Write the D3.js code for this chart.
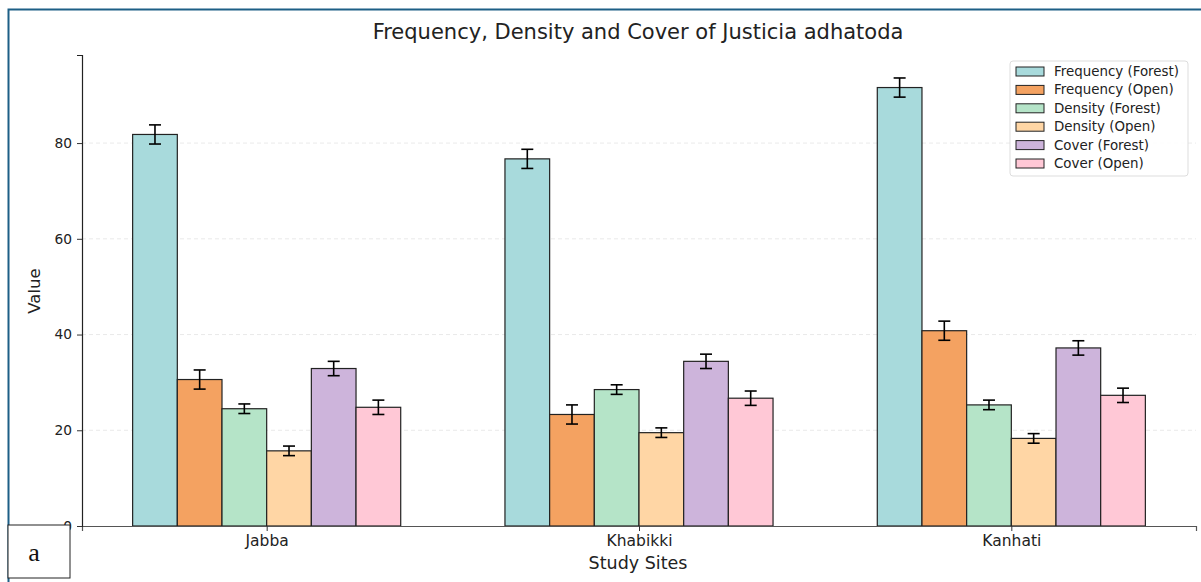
<!DOCTYPE html>
<html>
<head>
<meta charset="utf-8">
<script src="https://cdn.jsdelivr.net/npm/d3@7"></script>
<style>
  body { margin: 0; background: #fff; }
  text { font-family: "DejaVu Sans", sans-serif; }
</style>
</head>
<body>
<div id="chart"></div>
<script>
// Data
const sites = ["Jabba", "Khabikki", "Kanhati"];
const seriesNames = ["Frequency (Forest)", "Frequency (Open)", "Density (Forest)", "Density (Open)", "Cover (Forest)", "Cover (Open)"];
const freqForest = [81.8, 76.7, 91.6];
const freqOpen = [30.6, 23.3, 40.8];
const densForest = [24.5, 28.5, 25.3];
const densOpen = [15.7, 19.5, 18.3];
const coverForest = [32.9, 34.4, 37.2];
const coverOpen = [24.8, 26.7, 27.3];
const errFreq = [2, 2, 2];
const errDens = [1, 1, 1];
const errCover = [1.5, 1.5, 1.5];
const yTicks = [0, 20, 40, 60, 80];

const colors = ["#a8dadc", "#f4a261", "#b5e4c8", "#ffd6a5", "#cdb4db", "#ffc8d6"];

const seriesValues = [freqForest, freqOpen, densForest, densOpen, coverForest, coverOpen];
const seriesErrors = [errFreq, errFreq, errDens, errDens, errCover, errCover];

/**
 * Basic Settings
 */
const canvasWidth = 1201;
const canvasHeight = 582;
const plotLeft = 82, plotRight = 1196, plotTop = 55, plotBottom = 526;
const barWidth = 0.12;

const svg = d3.select("#chart")
  .append("svg")
  .attr("width", canvasWidth)
  .attr("height", canvasHeight)
  .style("background", "#fff");

// outer frame
svg.append("path")
  .attr("d", `M8.5,${canvasHeight} V9.5 H${canvasWidth}`)
  .attr("fill", "none")
  .attr("stroke", "#1d5f86")
  .attr("stroke-width", 2);

/**
 * Scale
 */
const xScale = d3.scaleLinear()
  .domain([-0.496, 2.496])
  .range([plotLeft, plotRight]);

const yScale = d3.scaleLinear()
  .domain([0, 98.4])
  .range([plotBottom, plotTop]);

// grid
svg.selectAll(".grid")
  .data(yTicks.filter(d => d > 0))
  .enter()
  .append("line")
  .attr("class", "grid")
  .attr("x1", plotLeft)
  .attr("x2", plotRight)
  .attr("y1", d => yScale(d))
  .attr("y2", d => yScale(d))
  .attr("stroke", "#e3e3e3")
  .attr("stroke-width", 0.8)
  .attr("stroke-dasharray", "4,3");

/**
 * Bars
 */
const barData = [];
seriesValues.forEach(function(vals, s) {
  vals.forEach(function(v, i) {
    barData.push({ s: s, i: i, v: v, e: seriesErrors[s][i] });
  });
});

svg.selectAll(".bar")
  .data(barData)
  .enter()
  .append("rect")
  .attr("class", "bar")
  .attr("x", d => xScale(d.i + (d.s - 3) * barWidth))
  .attr("y", d => yScale(d.v))
  .attr("width", xScale(barWidth) - xScale(0))
  .attr("height", d => yScale(0) - yScale(d.v))
  .attr("fill", d => colors[d.s])
  .attr("stroke", "#222")
  .attr("stroke-width", 1.2);

// error bars
const errG = svg.selectAll(".err")
  .data(barData)
  .enter()
  .append("g")
  .attr("class", "err")
  .attr("transform", d => `translate(${xScale(d.i + (d.s - 2.5) * barWidth)},0)`);

errG.append("line")
  .attr("x1", 0).attr("x2", 0)
  .attr("y1", d => yScale(d.v + d.e))
  .attr("y2", d => yScale(d.v - d.e))
  .attr("stroke", "#000")
  .attr("stroke-width", 1.6);

errG.selectAll(".cap")
  .data(d => [d.v + d.e, d.v - d.e])
  .enter()
  .append("line")
  .attr("x1", -6).attr("x2", 6)
  .attr("y1", d => yScale(d))
  .attr("y2", d => yScale(d))
  .attr("stroke", "#000")
  .attr("stroke-width", 1.6);

/**
 * Axis
 */
const xAxis = d3.axisBottom(xScale)
  .tickValues([0, 1, 2])
  .tickFormat(i => sites[i])
  .tickSizeOuter(0)
  .tickSize(5)
  .tickPadding(4);

const gx = svg.append("g")
  .attr("transform", `translate(0,${plotBottom})`)
  .call(xAxis);
gx.select(".domain").attr("stroke", "#555").attr("stroke-width", 1.2);
gx.selectAll(".tick line").attr("stroke", "#333");
gx.selectAll(".tick text").attr("font-size", 15.5).attr("fill", "#222")
  .attr("font-family", "DejaVu Sans");

const yAxis = d3.axisLeft(yScale)
  .tickValues(yTicks)
  .tickSizeOuter(0)
  .tickSize(5)
  .tickPadding(5);

const gy = svg.append("g")
  .attr("transform", `translate(${plotLeft},0)`)
  .call(yAxis);
gy.select(".domain").attr("stroke", "#222").attr("stroke-width", 1.2);
gy.selectAll(".tick line").attr("stroke", "#333");
gy.selectAll(".tick text").attr("font-size", 13.8).attr("fill", "#222")
  .attr("font-family", "DejaVu Sans");

/**
 * Labels
 */
svg.append("text")
  .attr("x", 638)
  .attr("y", 39)
  .attr("text-anchor", "middle")
  .attr("font-size", 21)
  .attr("fill", "#222")
  .text("Frequency, Density and Cover of Justicia adhatoda");

svg.append("text")
  .attr("x", 638)
  .attr("y", 569)
  .attr("text-anchor", "middle")
  .attr("font-size", 17.5)
  .attr("fill", "#222")
  .text("Study Sites");

svg.append("text")
  .attr("transform", "translate(40,291) rotate(-90)")
  .attr("text-anchor", "middle")
  .attr("font-size", 16.5)
  .attr("fill", "#222")
  .text("Value");

/**
 * Legend
 */
const legend = svg.append("g").attr("transform", "translate(1010,61)");
legend.append("rect")
  .attr("x", 0).attr("y", 0)
  .attr("width", 178).attr("height", 115)
  .attr("rx", 3)
  .attr("fill", "#fff")
  .attr("fill-opacity", 0.85)
  .attr("stroke", "#ddd");

const items = legend.selectAll(".item")
  .data(seriesNames)
  .enter()
  .append("g")
  .attr("class", "item")
  .attr("transform", (d, i) => `translate(6,${10 + i * 18.4})`);

items.append("rect")
  .attr("x", 0).attr("y", -4)
  .attr("width", 28).attr("height", 9)
  .attr("fill", (d, i) => colors[i])
  .attr("stroke", "#222")
  .attr("stroke-width", 1);

items.append("text")
  .attr("x", 38)
  .attr("y", 5)
  .attr("font-size", 13.4)
  .attr("fill", "#222")
  .text(d => d);

/**
 * Panel letter
 */
svg.append("rect")
  .attr("x", 8).attr("y", 525)
  .attr("width", 62).attr("height", 53)
  .attr("fill", "#fff")
  .attr("stroke", "#222")
  .attr("stroke-width", 1);

svg.append("text")
  .attr("x", 34)
  .attr("y", 561)
  .attr("text-anchor", "middle")
  .attr("font-size", 26)
  .attr("fill", "#111")
  .style("font-family", "'Liberation Serif', serif")
  .text("a");
</script>
</body>
</html>
